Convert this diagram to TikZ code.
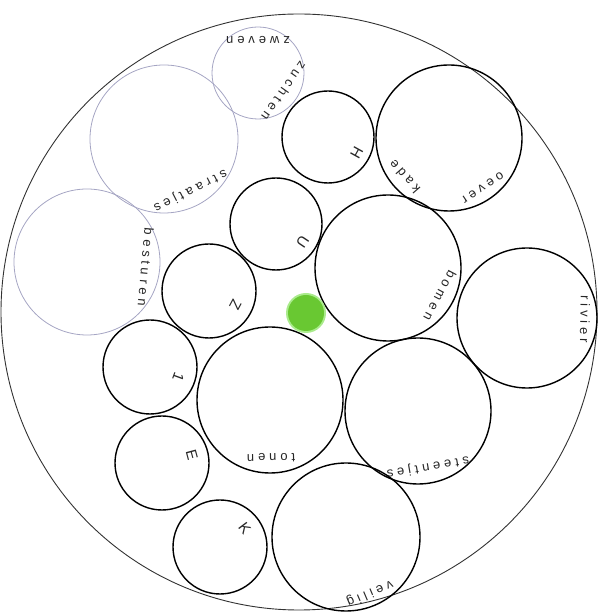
\documentclass[tikz,border=0pt]{standalone}
\usepackage{fontspec}
\setmainfont{Liberation Sans}
\begin{document}
\begin{tikzpicture}[x=1pt,y=1pt,
  blk/.style={circle,draw=black,line width=1.4pt,inner sep=0pt},
  gry/.style={circle,draw={rgb,255:red,165;green,165;blue,195},line width=0.8pt,inner sep=0pt},
  lbl/.style={inner sep=0pt,text=black!85,font=\fontsize{13}{13}\selectfont\addfontfeature{LetterSpace=30}},
  big/.style={inner sep=0pt,text=black!85,font=\fontsize{15}{15}\selectfont}]
\useasboundingbox (0,0) rectangle (598,615);
\node[circle,draw=black!80,line width=0.9pt,inner sep=0pt,minimum size=596pt] (outer) at (299,303) {};
% grey circles
\node[gry,minimum size=92pt] (zz) at (258,542) {};
\node[gry,minimum size=148pt] (st) at (164,476) {};
\node[gry,minimum size=146pt] (be) at (87,353) {};
% black circles
\node[blk,minimum size=92pt] (h) at (328,478) {};
\node[blk,minimum size=146pt] (ok) at (449,477) {};
\node[blk,minimum size=92pt] (u) at (276,391) {};
\node[blk,minimum size=146pt] (bo) at (388,347) {};
\node[blk,minimum size=140pt] (ri) at (527,297) {};
\node[blk,minimum size=94pt] (z) at (209,324) {};
\node[blk,minimum size=94pt] (one) at (150,248) {};
\node[blk,minimum size=146pt] (to) at (270,215) {};
\node[blk,minimum size=146pt] (ste) at (418,204) {};
\node[blk,minimum size=94pt] (e) at (162,152) {};
\node[blk,minimum size=94pt] (k) at (220,68) {};
\node[blk,minimum size=148pt] (ve) at (346,78) {};
% green dot
\node[circle,fill={rgb,255:red,170;green,235;blue,140},inner sep=0pt,minimum size=40pt] (glow) at (306,302) {};
\node[circle,fill={rgb,255:red,105;green,200;blue,50},inner sep=0pt,minimum size=36pt] (green) at (306,302) {};
% labels
\node[lbl,rotate=180] (lzw) at ([shift={(90:33)}]zz.center) {zweven};
\node[lbl,rotate=-125] (lzu) at ([shift={(-35:32)}]zz.center) {zuchten};
\node[lbl,rotate=-153] (lst) at ([shift={(-63:58)}]st.center) {straatjes};
\node[lbl,rotate=-95] (lbe) at ([shift={(-5:59)}]be.center) {besturen};
\node[big,rotate=-119] (lh) at ([shift={(-29:33)}]h.center) {H};
\node[lbl,rotate=-146] (loe) at ([shift={(-56:60)}]ok.center) {oever};
\node[lbl,rotate=131] (lka) at ([shift={(-139:59)}]ok.center) {kade};
\node[big,rotate=-124] (lu) at ([shift={(-34:32)}]u.center) {U};
\node[lbl,rotate=-118] (lbo) at ([shift={(-28:59)}]bo.center) {bomen};
\node[lbl,rotate=-91] (lri) at ([shift={(-1:58)}]ri.center) {rivier};
\node[big,rotate=-118] (lz) at ([shift={(-28:30)}]z.center) {Z};
\node[big,rotate=-110] (l1) at ([shift={(-20:30)}]one.center) {1};
\node[lbl,rotate=-179] (lto) at ([shift={(-89:58)}]to.center) {tonen};
\node[lbl,rotate=-170] (lste) at ([shift={(-80:57)}]ste.center) {steentjes};
\node[big,rotate=-75] (le) at ([shift={(15:31)}]e.center) {E};
\node[big,rotate=-53] (lk) at ([shift={(37:31)}]k.center) {K};
\node[lbl,rotate=-157] (lve) at ([shift={(-67:61)}]ve.center) {veilig};
\end{tikzpicture}
\end{document}
